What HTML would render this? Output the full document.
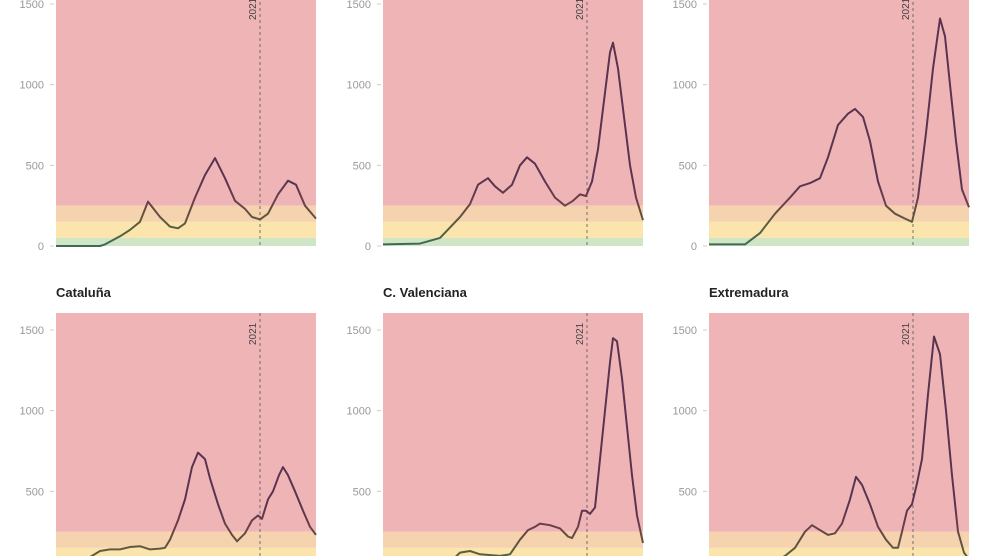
<!DOCTYPE html>
<html><head><meta charset="utf-8"><style>
body{margin:0;background:#fff;width:990px;height:556px;overflow:hidden;font-family:"Liberation Sans",sans-serif}
svg{position:absolute;left:0;top:0}
</style></head><body>
<svg id="c" width="990" height="556"></svg>
<script>
const titles=["","","","Cataluña","C. Valenciana","Extremadura"];
const ticks=[0,500,1000,1500];
const bandLimits=[0,50,150,250,1700];
const bandColors=["#cfe6c6","#fbe5ad","#f5d3ae","#efb5b6"];
const yearMarkDay=204;
const days0=[0,44,49,64,74,84,92,104,114,122,129,139,149,159,169,179,189,196,204,212,222,232,240,249,260];
const vals0=[0,0,10,60,100,150,275,180,120,110,140,300,440,545,420,280,230,180,165,200,320,405,380,250,170];
const days1=[0,37,57,77,87,95,105,112,120,129,137,144,152,162,172,182,190,197,203,209,215,221,227,230,235,241,247,253,260];
const vals1=[10,15,50,180,260,380,420,370,330,380,500,550,510,400,300,250,280,320,310,400,600,900,1200,1260,1100,800,500,300,160];
const days2=[0,36,51,66,81,91,101,111,119,129,139,146,154,161,169,177,186,196,203,209,217,224,231,236,241,247,253,260];
const vals2=[10,10,80,200,300,370,390,420,550,750,820,850,800,650,400,250,200,170,150,300,700,1100,1410,1300,1000,650,350,240];
const days3=[0,19,29,36,44,54,64,74,84,94,104,109,114,122,129,136,142,149,154,162,169,176,181,189,196,202,206,212,217,223,227,232,239,247,254,260];
const vals3=[20,40,80,100,130,140,140,155,160,140,145,150,200,320,450,650,740,700,580,420,300,230,190,240,320,350,330,450,500,600,650,600,500,380,280,230];
const days4=[0,67,77,87,97,117,127,137,145,152,157,167,177,185,189,195,199,203,207,212,217,222,227,230,234,239,244,249,254,260];
const vals4=[30,60,120,130,110,100,110,200,260,280,300,290,270,220,210,280,380,380,360,400,700,1000,1300,1450,1430,1200,900,600,350,180];
const days5=[0,40,61,76,86,96,103,111,119,126,133,141,147,153,161,169,177,184,189,193,198,203,208,213,219,225,231,237,243,249,255,260];
const vals5=[10,20,50,100,150,250,290,260,230,240,300,450,590,540,420,280,200,150,150,250,380,420,550,700,1100,1460,1350,1000,600,250,120,80];
const daysAll=[days0,days1,days2,days3,days4,days5];
const valsAll=[vals0,vals1,vals2,vals3,vals4,vals5];
const NS="http://www.w3.org/2000/svg";
const svg=document.getElementById("c");
function mk(t,a,p){const e=document.createElementNS(NS,t);for(const k in a)e.setAttribute(k,a[k]);(p||svg).appendChild(e);return e;}
const cols=[56,383,709],W=260,K=242/1500;
const defs=mk("defs",{});
for(let i=0;i<6;i++){
  const x0=cols[i%3], base=i<3?246:572;
  const xs=d=>x0+d/260*W, ys=v=>base-v*K;
  const g=mk("g",{});
  
  
  const top=i<3?-10:313;
  for(let b=0;b<4;b++){
    const r=mk("rect",{x:x0,y:Math.max(top,ys(bandLimits[b+1])),width:W,height:ys(bandLimits[b])-Math.max(top,ys(bandLimits[b+1])),fill:bandColors[b]},g);
    
    
  }
  if(titles[i]){const t=mk("text",{x:x0,y:297,"font-size":13,"font-weight":"bold",fill:"#222"},g);t.textContent=titles[i];
    
    }
  ticks.forEach(v=>{const y=ys(v);if(y>556)return;
    const t=mk("text",{x:44,y:y+4,"font-size":11,fill:"#999","text-anchor":"end"},g);t.textContent=v;
    
    
    t.setAttribute("x",x0-12);
    mk("line",{x1:x0-6,x2:x0-2,y1:y,y2:y,stroke:"#ccc"},g);});
  const lx=xs(yearMarkDay);
  const dl=mk("line",{x1:lx,x2:lx,y1:top,y2:base,stroke:"#555","stroke-dasharray":"3,3","stroke-width":0.8},g);
  
  
  const yl=mk("text",{x:0,y:0,"font-size":10,fill:"#444",transform:`translate(${lx-4},${i<3?20:345}) rotate(-90)`},g);yl.textContent="2021";
  
  
  const gr=mk("linearGradient",{id:"lg"+i,gradientUnits:"userSpaceOnUse",x1:0,x2:0,y1:base,y2:ys(400)},defs);
  mk("stop",{offset:0,"stop-color":"#3e6b52"},gr);mk("stop",{offset:0.35,"stop-color":"#5e5c3c"},gr);mk("stop",{offset:0.7,"stop-color":"#6b3f48"},gr);mk("stop",{offset:1,"stop-color":"#5a3350"},gr);
  const d=daysAll[i].map((dd,j)=>(j?"L":"M")+xs(dd).toFixed(1)+","+ys(valsAll[i][j]).toFixed(1)).join("");
  const p=mk("path",{d,fill:"none",stroke:`url(#lg${i})`,"stroke-width":2,"stroke-linejoin":"round"},g);
  
  
}
</script>
</body></html>
